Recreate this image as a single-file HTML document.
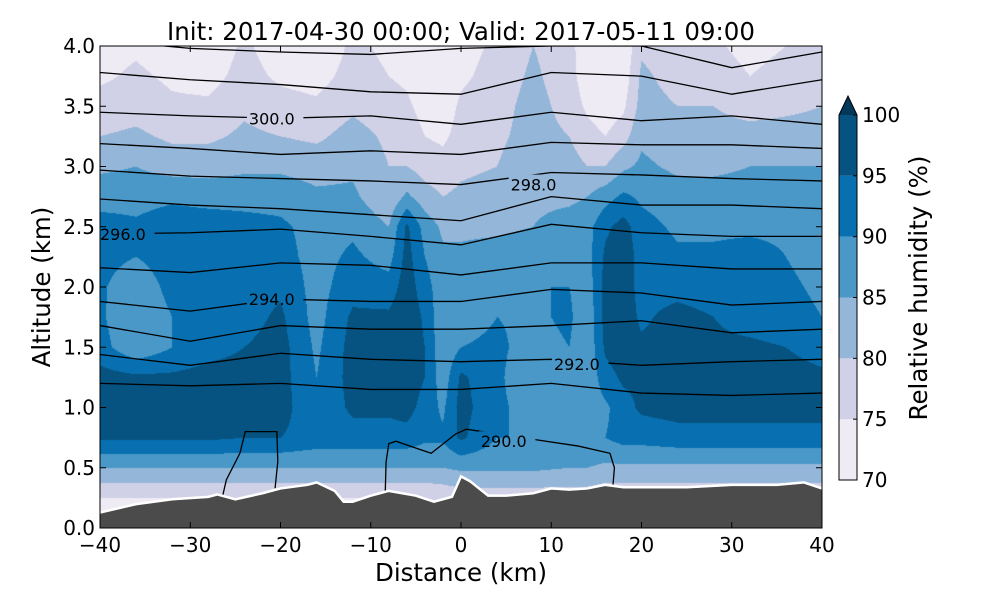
<!DOCTYPE html>
<html><head><meta charset="utf-8"><style>
body{margin:0;background:#fff;width:1000px;height:600px;overflow:hidden;position:relative;font-family:"DejaVu Sans","Liberation Sans",sans-serif}
canvas{position:absolute;left:100px;top:46px}
svg{position:absolute;left:0;top:0;font-family:"DejaVu Sans","Liberation Sans",sans-serif}
</style></head><body>
<canvas id="cv" width="722" height="482"></canvas>
<svg id="sv" width="1000" height="600"></svg>
<script>
// ---- data ----
const distances = [-40,-36,-32,-28,-24,-20,-16,-12,-8,-6,-4,-2,0,4,8,12,14,16,18,20,24,28,32,36,40];
const altitudes = [0,0.25,0.5,0.75,1,1.25,1.5,1.75,2,2.25,2.5,2.75,3,3.25,3.5,3.75,4];
// relative humidity (%) per distance column, bottom to top
const rhColumns = [
[70,75,85,96,97,97,92,91,91,92,92,88,84,80,77,74,73],
[70,75,85,96,97,96,86,85,86,90,91,88,85,81,78,76,74],
[70,75,85,96,97,96,90,90,92,93,93,89,83,79,76,74,72],
[70,75,85,96,97,97,93,92,93,94,93,88,83,79,76,73,71],
[70,75,85,95,97,97,95,93,93,93,92,88,84,81,79,77,76],
[70,75,85,95,97,97,97,96,94,92,91,88,84,80,77,74,72],
[70,75,85,93,91,90,89,88,88,88,88,86,83,79,76,73,71],
[70,75,85,93,96,97,97,96,93,91,89,86,84,82,79,77,76],
[70,75,85,93,96,97,97,96,92,88,85,81,80,79,77,75,74],
[70,75,85,93,97,98,99,99,98,97,96,86,80,78,76,74,73],
[70,75,85,91,93,95,95,94,92,90,88,82,78,75,73,71,70],
[70,76,85,91,89,87,86,86,87,86,84,80,77,74,72,71,70],
[70,77,86,96,97,96,90,88,88,86,84,81,79,77,76,74,73],
[70,77,86,90,91,91,91,90,89,87,84,82,80,79,78,77,76],
[70,77,86,90,88,86,88,89,90,88,85,84,83,82,82,81,80],
[70,77,85,90,89,88,90,91,90,89,87,84,82,80,78,77,77],
[70,77,85,90,87,86,86,86,87,88,88,85,80,77,74,72,71],
[70,76,84,90,89,93,96,97,97,96,94,88,80,75,72,71,70],
[70,76,84,92,93,96,98,98,98,98,97,91,84,78,74,72,71],
[70,76,84,92,96,96,96,94,93,93,92,89,86,84,82,81,79],
[70,76,84,93,97,97,97,97,93,91,89,87,84,82,80,78,77],
[70,76,84,93,97,97,96,95,92,91,89,87,84,82,80,78,76],
[70,76,84,93,97,97,96,93,92,92,89,87,85,82,78,75,73],
[70,76,84,93,97,97,95,92,91,90,89,87,85,82,79,77,75],
[70,76,84,93,97,96,93,90,89,88,88,87,85,82,80,78,77]
];
const rhLevels = [70,75,80,85,90,95,100];
const rhColors = ["#efebf4","#d0d1e6","#94b6d8","#4a98c8","#0870b0","#065381","#03385a"];
const terrainX = [-40,-36,-32,-28,-27,-25,-22,-20,-17,-16,-14,-13,-12,-10,-8,-5,-3,-1,0,1,3,5,8,10,12,14,16,18,25,30,35,38,40];
const terrainZ = [0.12,0.19,0.23,0.25,0.27,0.23,0.28,0.32,0.35,0.37,0.30,0.21,0.21,0.26,0.30,0.26,0.21,0.25,0.42,0.38,0.26,0.26,0.28,0.32,0.31,0.32,0.35,0.33,0.33,0.35,0.35,0.37,0.32];
const thetaX = [-40,-30,-20,-10,0,10,20,30,40];
const thetaLines = [
[4.05,3.98,3.95,3.93,3.98,4.0,4.0,3.82,3.95],
[3.78,3.72,3.68,3.62,3.6,3.78,3.75,3.6,3.72],
[3.45,3.42,3.4,3.42,3.35,3.45,3.38,3.42,3.35],
[3.19,3.15,3.1,3.13,3.1,3.2,3.18,3.18,3.15],
[2.97,2.92,2.9,2.88,2.85,2.95,2.93,2.9,2.88],
[2.73,2.68,2.65,2.6,2.55,2.75,2.68,2.68,2.65],
[2.44,2.45,2.48,2.42,2.35,2.52,2.45,2.42,2.42],
[2.16,2.12,2.2,2.18,2.1,2.2,2.2,2.15,2.15],
[1.88,1.8,1.9,1.88,1.88,1.98,1.95,1.85,1.88],
[1.68,1.55,1.68,1.65,1.65,1.68,1.72,1.62,1.65],
[1.44,1.35,1.45,1.4,1.38,1.4,1.35,1.38,1.4],
[1.2,1.18,1.2,1.15,1.15,1.2,1.12,1.1,1.12]
];
const theta290A = [[-26.4,0.27],[-26,0.4],[-24.5,0.62],[-23.9,0.8],[-20.4,0.8],[-20.3,0.55],[-20.6,0.33]];
const theta290B = [[-8.4,0.28],[-8.3,0.55],[-8.0,0.7],[-7.2,0.72],[-4.5,0.65],[-3.3,0.62],[-0.6,0.78],[0.6,0.82],[8.5,0.73],[13,0.68],[16.5,0.62],[17,0.5],[16.8,0.32]];
const labelTexts = ["300.0","298.0","296.0","294.0","292.0","290.0"];
const labelPos = [[-23.5,3.4],[5.5,2.85],[-40,2.44],[-23.5,1.9],[10.3,1.36],[2.2,0.72]];
const xTicks = [-40,-30,-20,-10,0,10,20,30,40];
const yTicks = [0,0.5,1,1.5,2,2.5,3,3.5,4];
const cbTicks = [70,75,80,85,90,95,100];

// ---- scales ----
const X0=100,X1=822,Y0=46,Y1=528;
const sx=d=>X0+(d+40)*(X1-X0)/80;
const sy=a=>Y1-a*(Y1-Y0)/4;
const cbY=v=>480-(v-70)*(480-115)/30;

// ---- field ----
function hex(c){return [parseInt(c.slice(1,3),16),parseInt(c.slice(3,5),16),parseInt(c.slice(5,7),16)];}
const rgbs=rhColors.map(hex);
const cv=document.getElementById('cv'),ctx=cv.getContext('2d');
const W=722,H=482,img=ctx.createImageData(W,H);
for(let px=0;px<W;px++){
  const d=-40+(px+0.5)*80/W;
  let i=0;while(i<distances.length-2&&d>distances[i+1])i++;
  const tx=(d-distances[i])/(distances[i+1]-distances[i]);
  for(let py=0;py<H;py++){
    const a=4-(py+0.5)*4/H;
    let j=Math.min(15,Math.max(0,Math.floor(a/0.25)));
    const ty=(a-altitudes[j])/0.25;
    const c0=rhColumns[i],c1=rhColumns[i+1];
    const v=(c0[j]*(1-ty)+c0[j+1]*ty)*(1-tx)+(c1[j]*(1-ty)+c1[j+1]*ty)*tx;
    let k=-1;for(let m=0;m<rhLevels.length;m++)if(v>=rhLevels[m])k=m;
    const col=k<0?[255,255,255]:rgbs[k];
    const o=(py*W+px)*4;img.data[o]=col[0];img.data[o+1]=col[1];img.data[o+2]=col[2];img.data[o+3]=255;
  }
}
ctx.putImageData(img,0,0);

// ---- svg ----
const NS="http://www.w3.org/2000/svg",sv=document.getElementById('sv');
function mk(t,at,parent){const e=document.createElementNS(NS,t);for(const k in at)e.setAttribute(k,at[k]);(parent||sv).appendChild(e);return e;}
const defs=mk('defs',{});
const cp=mk('clipPath',{id:'plotclip'},defs);mk('rect',{x:X0,y:Y0,width:X1-X0,height:Y1-Y0},cp);
const mask=mk('mask',{id:'lblmask'},defs);
mk('rect',{x:0,y:0,width:1000,height:600,fill:'#fff'},mask);
labelPos.forEach((p,i)=>{mk('rect',{x:sx(p[0])-2,y:sy(p[1])-10,width:labelTexts[i].length*10.5+4,height:20,fill:'#000'},mask);});
const lineG=mk('g',{'clip-path':'url(#plotclip)'});
const lg=mk('g',{mask:'url(#lblmask)'},lineG);
thetaLines.forEach((ln,li)=>{
  const pl=mk('polyline',{points:ln.map((a,k)=>sx(thetaX[k])+','+sy(a)).join(' '),fill:'none',stroke:'#000','stroke-width':1.3},lg);
  
  
});
[theta290A,theta290B].forEach((ln,li)=>{
  const pl=mk('polyline',{points:ln.map(p=>sx(p[0])+','+sy(p[1])).join(' '),fill:'none',stroke:'#000','stroke-width':1.3},lg);
  
  
});
labelPos.forEach((p,i)=>{
  const t=mk('text',{x:sx(p[0]),y:sy(p[1])+6,'font-size':16,fill:'#000'},lineG);t.textContent=labelTexts[i];
  
  
});
// terrain
let tp=sx(-40)+','+Y1+' ';terrainX.forEach((d,k)=>{tp+=sx(d)+','+sy(terrainZ[k])+' ';});tp+=sx(40)+','+Y1;
const terr=mk('polygon',{points:tp,fill:'#4b4b4b'});


const tl=mk('polyline',{points:terrainX.map((d,k)=>sx(d)+','+(sy(terrainZ[k])-1)).join(' '),fill:'none',stroke:'#fff','stroke-width':2.5});


tl.setAttribute('clip-path','url(#plotclip)');
// frame
const fr=mk('rect',{x:X0,y:Y0,width:X1-X0,height:Y1-Y0,fill:'none',stroke:'#000','stroke-width':1});


xTicks.forEach(v=>{
  const x=sx(v);
  mk('line',{x1:x,y1:Y1,x2:x,y2:Y1-6,stroke:'#000'});mk('line',{x1:x,y1:Y0,x2:x,y2:Y0+6,stroke:'#000'});
  const t=mk('text',{x:x,y:Y1+24,'font-size':20,'text-anchor':'middle'});t.textContent=(v<0?'\u2212':'')+Math.abs(v);
  
  
});
yTicks.forEach(v=>{
  const y=sy(v);
  mk('line',{x1:X0,y1:y,x2:X0+6,y2:y,stroke:'#000'});mk('line',{x1:X1,y1:y,x2:X1-6,y2:y,stroke:'#000'});
  const t=mk('text',{x:X0-5,y:y+7,'font-size':20,'text-anchor':'end'});t.textContent=v.toFixed(1);
  
  
});
let t=mk('text',{x:461,y:581,'font-size':24.5,'text-anchor':'middle'});t.textContent='Distance (km)';

t=mk('text',{x:0,y:0,'font-size':24.5,'text-anchor':'middle',transform:'translate(50,287) rotate(-90)'});t.textContent='Altitude (km)';

t=mk('text',{x:461,y:40,'font-size':24.5,'text-anchor':'middle'});t.textContent='Init: 2017-04-30 00:00; Valid: 2017-05-11 09:00';

// colorbar
const cb=mk('g',{});


for(let k=0;k<6;k++){mk('rect',{x:839,y:cbY(rhLevels[k+1]),width:18,height:cbY(rhLevels[k])-cbY(rhLevels[k+1]),fill:rhColors[k]},cb);}
mk('polygon',{points:'839,115 848,96 857,115',fill:rhColors[6]},cb);
mk('polygon',{points:'839,480 839,115 848,96 857,115 857,480',fill:'none',stroke:'#000'},cb);
cbTicks.forEach(v=>{
  const y=cbY(v);mk('line',{x1:853,y1:y,x2:857,y2:y,stroke:'#000'},cb);
  const tt=mk('text',{x:862,y:y+7,'font-size':20},cb);tt.textContent=v;
  
  
});
t=mk('text',{x:0,y:0,'font-size':24.5,'text-anchor':'middle',transform:'translate(927,288) rotate(-90)'});t.textContent='Relative humidity (%)';

</script>
</body></html>
